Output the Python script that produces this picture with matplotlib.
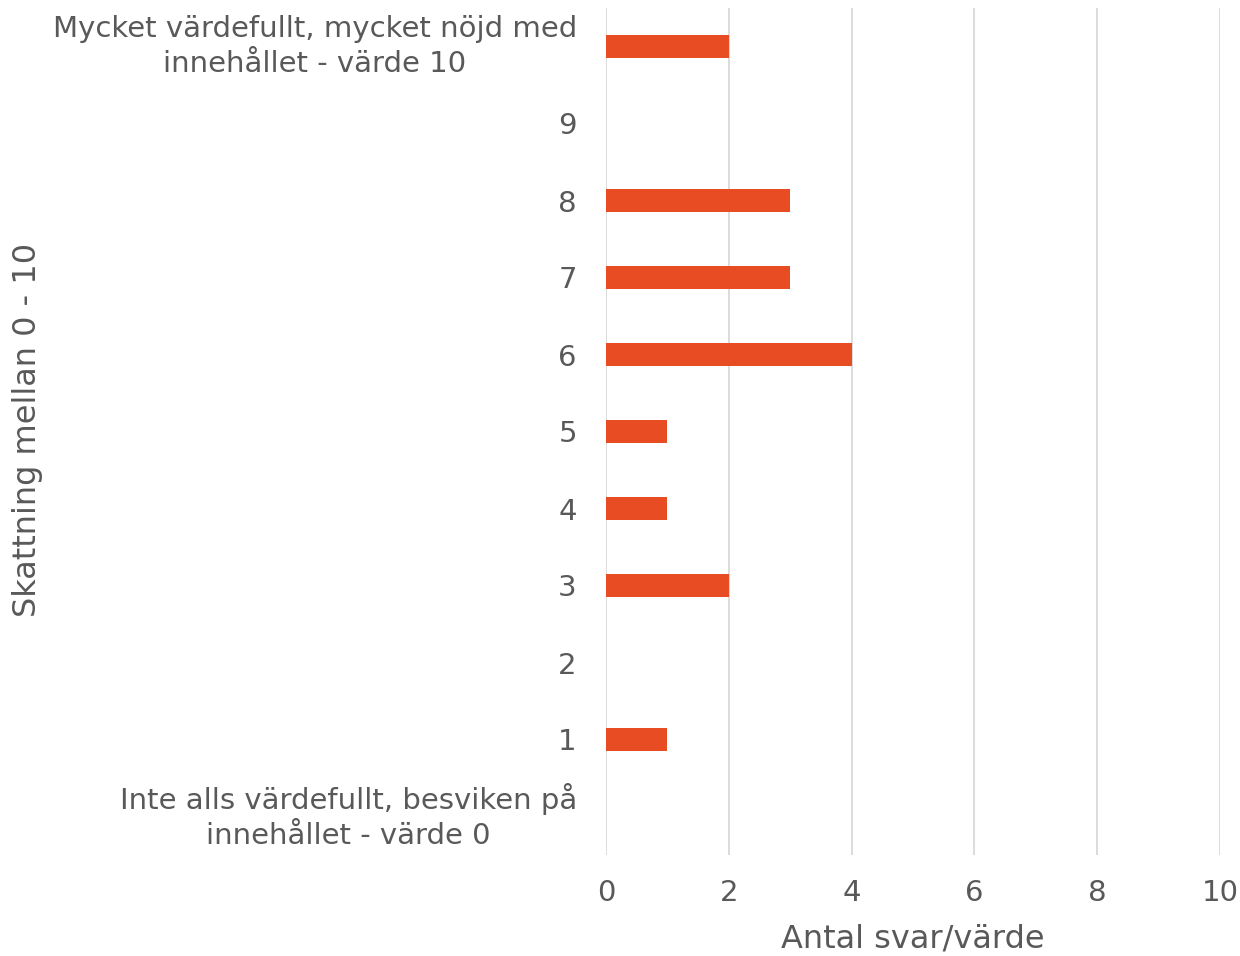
import matplotlib
matplotlib.use("Agg")
import matplotlib.pyplot as plt

categories = [
    "Inte alls värdefullt, besviken på\ninnehållet - värde 0",
    "1", "2", "3", "4", "5", "6", "7", "8", "9",
    "Mycket värdefullt, mycket nöjd med\ninnehållet - värde 10",
]
values = [0, 1, 0, 2, 1, 1, 4, 3, 3, 0, 2]
x_ticks = [0, 2, 4, 6, 8, 10]

TXT = "#595959"
BAR = "#E84C22"
GRID = "#D9D9D9"

plt.rcParams['font.family'] = ['DejaVu Sans']

fig = plt.figure(figsize=(12.4, 9.56), dpi=100)
ax = fig.add_axes([606/1240, 1 - 855/956, (1220-606)/1240, (855-8)/956])

ypos = list(range(len(categories)))
ax.barh(ypos, values, height=0.31, color=BAR, zorder=3)
ax.set_ylim(-0.5, len(categories) - 0.5)
ax.set_xlim(0, 10)
ax.set_xticks(x_ticks)
ax.set_xticklabels([str(t) for t in x_ticks])
ax.set_yticks(ypos)
ax.set_yticklabels(categories, multialignment='center', linespacing=1.3)
for lbl in ax.get_yticklabels():
    if "\n" in lbl.get_text():
        lbl.set_va('center')
ax.tick_params(axis='both', length=0, labelsize=21, colors=TXT)
ax.tick_params(axis='y', pad=21)
ax.tick_params(axis='x', pad=17)
ax.grid(axis='x', color=GRID, linewidth=1.3, zorder=0)
for s in ax.spines.values():
    s.set_visible(False)
ax.set_xlabel("Antal svar/värde", fontsize=23, color=TXT, labelpad=12)
ax.set_ylabel("")
fig.text(28/1240, 1 - 430/956, "Skattning mellan 0 - 10", rotation=90,
         ha='center', va='center', fontsize=23, color=TXT)

fig.savefig("out.png", dpi=100)
